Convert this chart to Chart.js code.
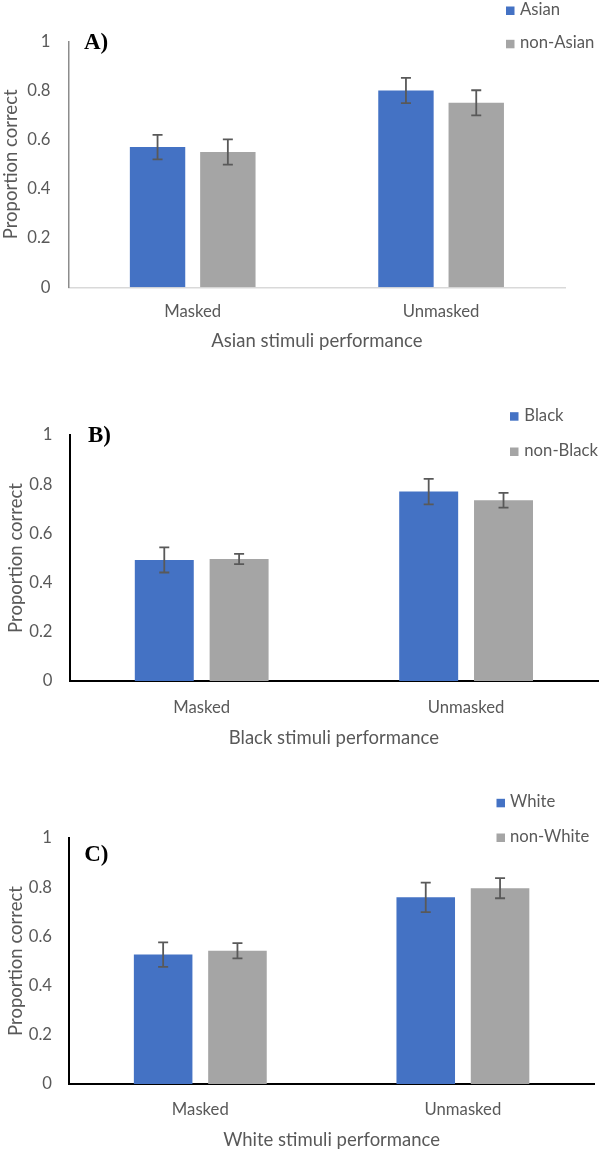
<!DOCTYPE html>
<html>
<head>
<meta charset="utf-8">
<title>Proportion correct by stimulus group</title>
<script src="https://cdn.jsdelivr.net/npm/chart.js@4.4.1/dist/chart.umd.min.js"></script>
<style>
  html, body { margin: 0; padding: 0; background: #fff; }
  #page { position: relative; width: 600px; height: 1153px; overflow: hidden; }
  #page canvas { position: absolute; left: 0; }
</style>
</head>
<body>
<div id="page">
  <canvas id="chartA" width="600" height="360" style="top:0px"></canvas>
  <canvas id="chartB" width="600" height="380" style="top:380px"></canvas>
  <canvas id="chartC" width="600" height="393" style="top:760px"></canvas>
</div>
<script>
// Proportion correct, masked vs unmasked faces, one panel per stimulus race.
// Values; error values are the half-length of each error bar.

var categories = ['Masked', 'Unmasked'];
var yTickLabels = ['0', '0.2', '0.4', '0.6', '0.8', '1'];
var yTitle = 'Proportion correct';

var panelLetters = ['A)', 'B)', 'C)'];
var xTitles = ['Asian stimuli performance', 'Black stimuli performance', 'White stimuli performance'];
var seriesNames = [['Asian', 'non-Asian'], ['Black', 'non-Black'], ['White', 'non-White']];

var asianMeans    = [0.570, 0.800];
var nonAsianMeans = [0.550, 0.750];
var asianErr      = [0.050, 0.051];
var nonAsianErr   = [0.051, 0.051];

var blackMeans    = [0.492, 0.770];
var nonBlackMeans = [0.496, 0.735];
var blackErr      = [0.051, 0.052];
var nonBlackErr   = [0.021, 0.030];

var whiteMeans    = [0.526, 0.759];
var nonWhiteMeans = [0.542, 0.796];
var whiteErr      = [0.050, 0.060];
var nonWhiteErr   = [0.031, 0.041];

var means  = [[asianMeans, nonAsianMeans], [blackMeans, nonBlackMeans], [whiteMeans, nonWhiteMeans]];
var errors = [[asianErr, nonAsianErr], [blackErr, nonBlackErr], [whiteErr, nonWhiteErr]];

// layout of each canvas (pixels, local to the canvas)
var panels = [
  { id: 'chartA', h: 360, padTop: 41.3, padRight: 34.7, padBottom: 7.9, yW: 68.5, xH: 64.8,
    yTitlePad: 0, yTickPad: 18, xTickPad: 14.4, axisY: '#8c8c8c', axisX: '#d9d9d9', axisW: 1.5,
    letter: { x: 84, y: 49.3 }, legend: { box: 506, text: 520, y: [15, 48.3] } },
  { id: 'chartB', h: 380, padTop: 55, padRight: 1.7, padBottom: 10.6, yW: 69.5, xH: 68.4,
    yTitlePad: 5, yTickPad: 17, xTickPad: 17, axisY: '#000000', axisX: '#000000', axisW: 2,
    letter: { x: 88, y: 61.7 }, legend: { box: 510, text: 524.3, y: [40.7, 76] } },
  { id: 'chartC', h: 393, padTop: 78, padRight: 5.8, padBottom: 1.9, yW: 69, xH: 67.1,
    yTitlePad: 4.5, yTickPad: 17, xTickPad: 16, axisY: '#000000', axisX: '#000000', axisW: 2,
    letter: { x: 84.2, y: 101 }, legend: { box: 496.5, text: 510, y: [47.3, 82] } }
];

var colors = ['#4472C4', '#A5A5A5'];
var textColor = '#595959';
var fontFamily = 'Lato, "Open Sans", sans-serif';

// error bars drawn at each bar's x, through the y scale
var errorBarPlugin = {
  id: 'errorBars',
  afterDatasetsDraw: function(chart) {
    var ctx = chart.ctx, y = chart.scales.y;
    chart.data.datasets.forEach(function(ds, di) {
      chart.getDatasetMeta(di).data.forEach(function(bar, i) {
        var hi = y.getPixelForValue(ds.data[i] + ds.errors[i]);
        var lo = y.getPixelForValue(ds.data[i] - ds.errors[i]);
        ctx.save();
        ctx.strokeStyle = '#595959';
        ctx.lineWidth = 1.8;
        ctx.beginPath();
        ctx.moveTo(bar.x, hi); ctx.lineTo(bar.x, lo);
        ctx.moveTo(bar.x - 5, hi); ctx.lineTo(bar.x + 5, hi);
        ctx.moveTo(bar.x - 5, lo); ctx.lineTo(bar.x + 5, lo);
        ctx.stroke();
        ctx.restore();
      });
    });
  }
};

// stacked legend top-right plus the bold panel letter
var decorPlugin = {
  id: 'decor',
  afterDraw: function(chart) {
    var o = chart.options.plugins.decor, ctx = chart.ctx;
    ctx.save();
    ctx.textBaseline = 'alphabetic';
    ctx.font = '16.7px ' + fontFamily;
    chart.data.datasets.forEach(function(ds, i) {
      var base = o.legend.y[i];
      ctx.fillStyle = ds.backgroundColor;
      ctx.fillRect(o.legend.box, base - 8.5, 8.5, 8.5);
      ctx.fillStyle = textColor;
      ctx.textAlign = 'left';
      ctx.fillText(ds.label, o.legend.text, base);
    });
    ctx.font = 'bold 23px "Liberation Serif", "Times New Roman", serif';
    ctx.fillStyle = '#000';
    ctx.fillText(o.letter.text, o.letter.x, o.letter.y);
    ctx.restore();
  }
};

panels.forEach(function(p, k) {
  new Chart(document.getElementById(p.id), {
    type: 'bar',
    data: {
      labels: categories,
      datasets: [0, 1].map(function(s) {
        return {
          label: seriesNames[k][s],
          data: means[k][s],
          errors: errors[k][s],
          backgroundColor: colors[s],
          borderWidth: 0,
          categoryPercentage: 0.566,
          barPercentage: 0.788
        };
      })
    },
    options: {
      responsive: false,
      animation: false,
      layout: { padding: { top: p.padTop, right: p.padRight, bottom: p.padBottom, left: 0 } },
      plugins: {
        legend: { display: false },
        tooltip: { enabled: false },
        decor: {
          legend: p.legend,
          letter: { text: panelLetters[k], x: p.letter.x, y: p.letter.y }
        }
      },
      scales: {
        x: {
          grid: { display: false, drawTicks: false },
          border: { display: true, color: p.axisX, width: p.axisW },
          ticks: { color: textColor, padding: p.xTickPad, font: { family: fontFamily, size: 16.7 } },
          title: { display: true, text: xTitles[k], color: textColor, padding: 0,
                   font: { family: fontFamily, size: 18.5 } },
          afterFit: function(scale) { scale.height = p.xH; }
        },
        y: {
          min: 0, max: 1,
          grid: { display: false, drawTicks: false },
          border: { display: true, color: p.axisY, width: p.axisW },
          ticks: {
            stepSize: 0.2, color: textColor, padding: p.yTickPad,
            font: { family: fontFamily, size: 16.7 },
            callback: function(v, i) { return yTickLabels[i]; }
          },
          title: { display: true, text: yTitle, color: textColor, padding: { top: p.yTitlePad, bottom: 0 },
                   font: { family: fontFamily, size: 18.5 } },
          afterFit: function(scale) { scale.width = p.yW; }
        }
      }
    },
    plugins: [errorBarPlugin, decorPlugin]
  });
});
</script>
</body>
</html>
